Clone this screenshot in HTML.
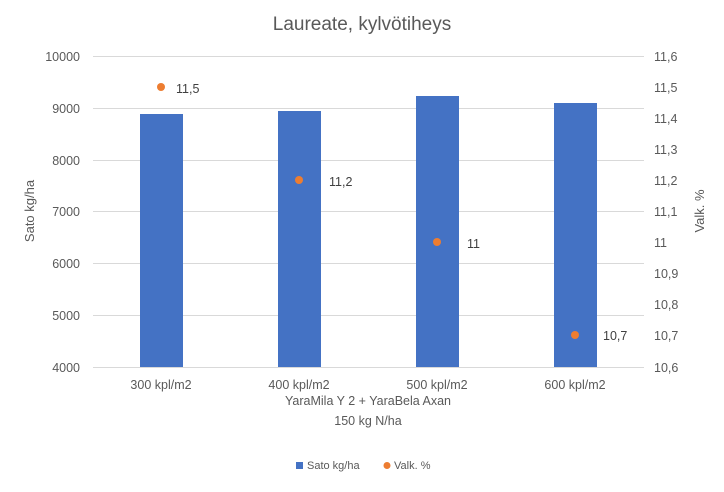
<!DOCTYPE html>
<html><head><meta charset="utf-8"><style>body{margin:0;background:#fff}svg{display:block;font-family:"Liberation Sans",sans-serif}</style></head><body>
<svg width="724" height="492" viewBox="0 0 724 492">
<text x="362" y="30" text-anchor="middle" font-size="19" fill="#595959">Laureate, kylvötiheys</text>
<g stroke="#d9d9d9" stroke-width="1">
<line x1="93" x2="644" y1="56.5" y2="56.5"/><line x1="93" x2="644" y1="108.5" y2="108.5"/><line x1="93" x2="644" y1="160.5" y2="160.5"/><line x1="93" x2="644" y1="211.5" y2="211.5"/><line x1="93" x2="644" y1="263.5" y2="263.5"/><line x1="93" x2="644" y1="315.5" y2="315.5"/><line x1="93" x2="644" y1="367.5" y2="367.5"/>
</g>
<g fill="#4472c4">
<rect x="140" y="114" width="43" height="253"/>
<rect x="278" y="111" width="43" height="256"/>
<rect x="416" y="96" width="43" height="271"/>
<rect x="554" y="103" width="43" height="264"/>
</g>
<g fill="#ed7d31"><circle cx="161" cy="87" r="4"/><circle cx="299" cy="180" r="4"/><circle cx="437" cy="242" r="4"/><circle cx="575" cy="335" r="4"/></g>
<g font-size="12.5" fill="#404040"><text x="176" y="93">11,5</text><text x="329" y="186">11,2</text><text x="467" y="248">11</text><text x="603" y="340">10,7</text></g>
<g font-size="12.5" fill="#595959" text-anchor="end">
<text x="80" y="61">10000</text><text x="80" y="113">9000</text><text x="80" y="165">8000</text><text x="80" y="216">7000</text><text x="80" y="268">6000</text><text x="80" y="320">5000</text><text x="80" y="372">4000</text></g>
<g font-size="12.5" fill="#595959">
<text x="654" y="61">11,6</text><text x="654" y="92">11,5</text><text x="654" y="123">11,4</text><text x="654" y="154">11,3</text><text x="654" y="185">11,2</text><text x="654" y="216">11,1</text><text x="654" y="247">11</text><text x="654" y="278">10,9</text><text x="654" y="309">10,8</text><text x="654" y="340">10,7</text><text x="654" y="372">10,6</text></g>
<g font-size="12.5" fill="#595959" text-anchor="middle">
<text x="161" y="389">300 kpl/m2</text><text x="299" y="389">400 kpl/m2</text><text x="437" y="389">500 kpl/m2</text><text x="575" y="389">600 kpl/m2</text>
<text x="368" y="405">YaraMila Y 2 + YaraBela Axan</text><text x="368" y="425">150 kg N/ha</text></g>
<text transform="translate(34,211) rotate(-90)" text-anchor="middle" font-size="13" fill="#595959">Sato kg/ha</text>
<text transform="translate(704,211) rotate(-90)" text-anchor="middle" font-size="13" fill="#595959">Valk. %</text>
<rect x="296" y="462" width="7" height="7" fill="#4472c4"/>
<text x="307" y="469" font-size="11" fill="#595959">Sato kg/ha</text>
<circle cx="387" cy="465.5" r="3.5" fill="#ed7d31"/>
<text x="394" y="469" font-size="11" fill="#595959">Valk. %</text>
</svg>
</body></html>
